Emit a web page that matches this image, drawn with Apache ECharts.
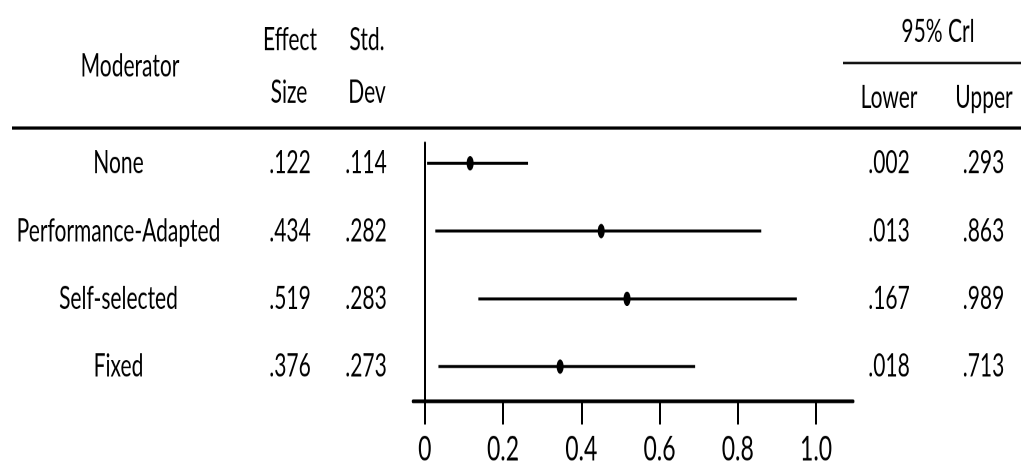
<!DOCTYPE html>
<html>
<head>
<meta charset="utf-8">
<script src="https://cdn.jsdelivr.net/npm/echarts@6/dist/echarts.min.js"></script>
<style>
html{margin:0;padding:0;background:#fff;overflow:hidden;}
body{margin:0;padding:0;background:#fff;height:466px;}
#chart{width:1021px;height:311px;transform:scaleY(1.5);transform-origin:0 0;}
</style>
</head>
<body>
<div id="chart"></div>
<script>
// ---- data ----
const moderators = ['None', 'Performance-Adapted', 'Self-selected', 'Fixed'];
const effectSize = [0.122, 0.434, 0.519, 0.376];
const stdDev     = [0.114, 0.282, 0.283, 0.273];
const crLower    = [0.002, 0.013, 0.167, 0.018];
const crUpper    = [0.293, 0.863, 0.989, 0.713];
// interval ends and point as they are drawn in the picture
const drawnLow   = [0.006, 0.027, 0.137, 0.035];
const drawnMid   = [0.116, 0.451, 0.517, 0.346];
const drawnHigh  = [0.264, 0.860, 0.951, 0.691];
const xTicks      = [0, 0.2, 0.4, 0.6, 0.8, 1.0];
const xTickLabels = ['0', '0.2', '0.4', '0.6', '0.8', '1.0'];
const rows = [0, 1, 2, 3];

const FONT = 'Lato';
const fmt = v => v.toFixed(3).replace(/^0/, '');
const tickLabel = v => {
  const i = xTicks.findIndex(t => Math.abs(t - v) < 1e-6);
  return i >= 0 ? xTickLabels[i] : '';
};
const textStyle = {color: '#000', fontFamily: FONT, fontSize: 21};

function columnAxis(position, offset, values, formatter) {
  return {
    type: 'value', inverse: true, min: -0.3, max: 3.5,
    position: position, offset: offset,
    axisLine: {show: false, onZero: false},
    axisTick: {show: false}, splitLine: {show: false},
    axisLabel: Object.assign({
      customValues: rows,
      formatter: v => formatter(values[Math.round(v)]),
      align: 'center', margin: 0
    }, textStyle)
  };
}

const chart = echarts.init(document.getElementById('chart'), null, {devicePixelRatio: 2});

const seriesData = rows.map(i => [drawnLow[i], drawnMid[i], drawnHigh[i], i]);

function headText(text, x, y) {
  return {type: 'text', x: x, y: y, silent: true,
    style: {text: text, fill: '#000', fontFamily: FONT, fontSize: 21, align: 'center', verticalAlign: 'middle'}};
}

chart.setOption({
  backgroundColor: '#fff',
  animation: false,
  grid: {left: 413, right: 167.8, top: 95.3, bottom: 40.3},
  xAxis: {
    type: 'value', min: -0.03, max: 1.095,
    axisLine: {show: true, onZero: false, lineStyle: {color: '#000', width: 2.5}},
    axisTick: {show: true, customValues: xTicks, length: 16, lineStyle: {color: '#000', width: 2}},
    axisLabel: Object.assign({customValues: xTicks, formatter: tickLabel, margin: 21}, textStyle, {fontSize: 23}),
    splitLine: {show: false}
  },
  yAxis: [
    {
      type: 'value', inverse: true, min: -0.3, max: 3.5,
      axisLine: {show: true, onZero: true, lineStyle: {color: '#000', width: 2}},
      axisTick: {show: false}, splitLine: {show: false},
      axisLabel: Object.assign({
        customValues: rows,
        formatter: v => moderators[Math.round(v)],
        align: 'center', margin: 294.5
      }, textStyle)
    },
    columnAxis('left', 123, effectSize, fmt),
    columnAxis('left', 47, stdDev, fmt),
    columnAxis('right', 35.8, crLower, fmt),
    columnAxis('right', 130.3, crUpper, fmt)
  ],
  series: [{
    type: 'custom',
    xAxisIndex: 0, yAxisIndex: 0,
    clip: false,
    data: seriesData,
    encode: {x: [0, 1, 2], y: 3},
    renderItem: function (params, api) {
      const y = api.value(3);
      const lo = api.coord([api.value(0), y]);
      const mid = api.coord([api.value(1), y]);
      const hi = api.coord([api.value(2), y]);
      return {type: 'group', children: [
        {type: 'line', shape: {x1: lo[0], y1: lo[1], x2: hi[0], y2: hi[1]},
          style: {stroke: '#000', lineWidth: 2}},
        {type: 'ellipse', shape: {cx: mid[0], cy: mid[1], rx: 3.5, ry: 4.8},
          style: {fill: '#000'}}
      ]};
    }
  }],
  graphic: [
    headText('Moderator', 130, 44),
    headText('Effect', 290, 26.5),
    headText('Size', 289, 61.5),
    headText('Std.', 367, 26.5),
    headText('Dev', 367, 61.5),
    headText('95% Crl', 938, 21),
    headText('Lower', 889, 65.3),
    headText('Upper', 984, 65.3),
    {type: 'line', silent: true, shape: {x1: 12, y1: 85.3, x2: 1021, y2: 85.3},
      style: {stroke: '#000', lineWidth: 2.2}},
    {type: 'line', silent: true, shape: {x1: 843, y1: 42, x2: 1021, y2: 42},
      style: {stroke: '#000', lineWidth: 1.6}}
  ]
});
</script>
</body>
</html>
